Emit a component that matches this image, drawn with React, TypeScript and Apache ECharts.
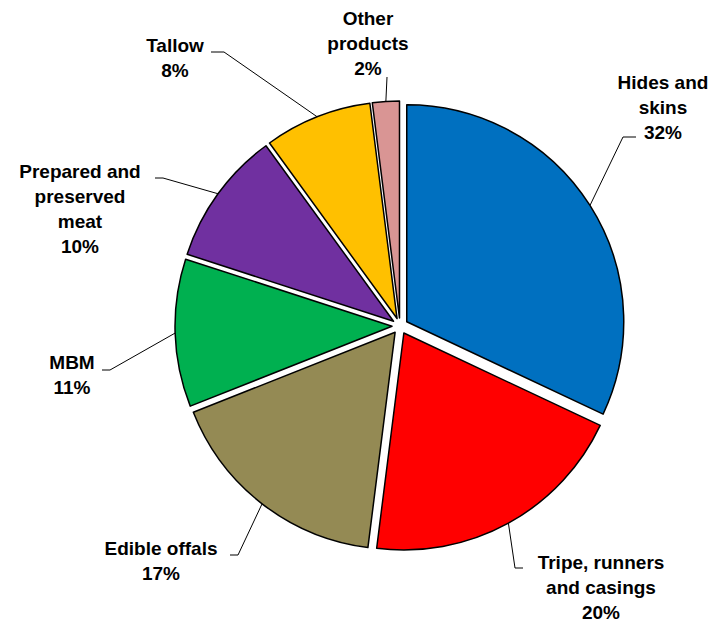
import React, { useEffect, useRef } from "react";
import * as echarts from "echarts";

const categories = [
  "Hides and\nskins",
  "Tripe, runners\nand casings",
  "Edible offals",
  "MBM",
  "Prepared and\npreserved\nmeat",
  "Tallow",
  "Other\nproducts",
];
const values = [32, 20, 17, 11, 10, 8, 2];
const colors = ["#0070C0", "#FF0000", "#948A54", "#00B050", "#7030A0", "#FFC000", "#D99594"];

// label anchor (block center) and leader elbow / end positions, per slice
const labelPos = [
  [663, 107],
  [601, 587],
  [161, 561],
  [72, 375],
  [80, 209],
  [175, 58],
  [368, 43],
];
const leaderEnd = [
  [[623, 137], [636, 137]],
  [[515, 568], [523, 568]],
  [[238, 555], [230, 555]],
  [[110, 370], [102, 370]],
  [[163, 178], [155, 178]],
  [[224, 52], [211, 52]],
  [[387, 77], [387, 77]],
];

const CENTER = [400, 326];
const RADIUS = 217;
const OFFSET = 8;

export default function App() {
  const ref = useRef<HTMLDivElement>(null);
  useEffect(() => {
    if (!ref.current) return;
    const chart = echarts.init(ref.current, null, { renderer: "svg" });
    const base = {
      type: "pie",
      center: CENTER,
      radius: [0, RADIUS],
      startAngle: 90,
      clockwise: true,
      avoidLabelOverlap: false,
      emphasis: { disabled: true },
    };
    chart.setOption({
      animation: false,
      backgroundColor: "#ffffff",
      series: [
        {
          ...base,
          selectedMode: "multiple",
          selectedOffset: OFFSET,
          label: { show: false },
          labelLine: { show: false },
          itemStyle: { borderColor: "#000000", borderWidth: 1.5 },
          select: { itemStyle: { borderColor: "#000000", borderWidth: 1.5 } },
          data: values.map((v, i) => ({
            name: categories[i],
            value: v,
            selected: true,
            itemStyle: { color: colors[i] },
            select: { itemStyle: { color: colors[i] } },
          })),
        },
        {
          ...base,
          silent: true,
          selectedMode: false,
          itemStyle: { color: "rgba(0,0,0,0)", borderWidth: 0 },
          label: {
            show: true,
            formatter: "{b}\n{d}%",
            fontFamily: "'Liberation Sans', Arial, sans-serif",
            fontWeight: "bold",
            fontSize: 19,
            lineHeight: 25,
            color: "#000000",
            align: "center",
          },
          labelLine: { show: true, lineStyle: { color: "#000000", width: 1 } },
          labelLayout: (params: any) => {
            const i = params.dataIndex;
            let start = leaderEnd[i][0];
            if (params.labelLinePoints) {
              const p = params.labelLinePoints[0];
              const dx = p[0] - CENTER[0];
              const dy = p[1] - CENTER[1];
              const d = Math.sqrt(dx * dx + dy * dy) || 1;
              start = [p[0] + (OFFSET * dx) / d, p[1] + (OFFSET * dy) / d];
            }
            return {
              x: labelPos[i][0],
              y: labelPos[i][1],
              align: "center",
              verticalAlign: "middle",
              labelLinePoints: [start, leaderEnd[i][0], leaderEnd[i][1]],
            };
          },
          data: values.map((v, i) => ({ name: categories[i], value: v })),
        },
      ],
    });
    return () => chart.dispose();
  }, []);
  return (
    <div
      ref={ref}
      style={{ position: "fixed", left: 0, top: 0, width: 717, height: 622 }}
    />
  );
}
